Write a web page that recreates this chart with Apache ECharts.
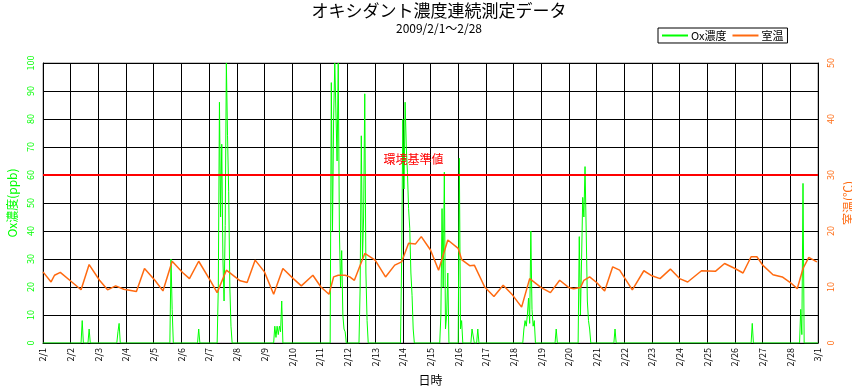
<!DOCTYPE html>
<html>
<head>
<meta charset="utf-8">
<script src="https://cdn.jsdelivr.net/npm/echarts@6/dist/echarts.min.js"></script>
<style>
html,body{margin:0;padding:0;background:#fff;overflow:hidden;}
#chart{width:852px;height:387px;}
</style>
</head>
<body>
<div id="chart"></div>
<script>
// Tick labels for x axis (one per day boundary, hours since 2/1 0:00)
var dayLabels = ['2/1','2/2','2/3','2/4','2/5','2/6','2/7','2/8','2/9','2/10','2/11','2/12','2/13','2/14',
  '2/15','2/16','2/17','2/18','2/19','2/20','2/21','2/22','2/23','2/24','2/25','2/26','2/27','2/28','3/1'];

// Ox concentration (ppb): [hour since 2/1 0:00, value]
var oxData = [
  [0,0],[33,0],[34,8],[35,0],[39,0],[40,5],[41,0],[64,0],[65,4],[66,7],[67,0],
  [110,0],[111,30],[112,12],[113,0],[134,0],[135,5],[136,0],
  [151,0],[152,20],[153,86],[154,45],[155,71],[156,30],[157,15],[158,42],[159,100],[160,74],[161,54],[162,20],[163,6],[164,0],
  [200,0],[201,6],[202,2],[203,6],[204,3],[205,6],[206,4],[207,15],[208,0],
  [249,0],[250,93],[251,40],[252,80],[253,100],[254,100],[255,65],[256,100],[257,40],[258,20],[259,33],[260,10],[261,5],[262,4],[263,0],
  [274,0],[275,20],[276,74],[277,30],[278,45],[279,89],[280,25],[281,8],[282,0],
  [310,0],[311,30],[312,80],[313,55],[314,86],[315,70],[316,61],[317,48],[318,41],[319,25],[320,17],[321,5],[322,0],
  [344,0],[345,10],[346,48],[347,20],[348,61],[349,5],[350,10],[351,25],[352,0],
  [360,0],[361,66],[362,5],[363,8],[364,0],[371,0],[372,5],[373,5],[374,0],[376,0],[377,5],[378,0],
  [416,0],[417,5],[418,8],[419,6],[420,10],[421,16],[422,7],[423,40],[424,12],[425,6],[426,8],[427,0],
  [444,0],[445,5],[446,0],
  [464,0],[465,38],[466,10],[467,30],[468,52],[469,45],[470,63],[471,40],[472,15],[473,8],[474,5],[475,0],
  [495,0],[496,5],[497,0],[614,0],[615,7],[616,0],
  [656,0],[657,12],[658,3],[659,57],[660,0],[672,0]
];

// Room temperature (°C): [hour since 2/1 0:00, value]
var tempData = [
  [0,12.7],[7,10.9],[10,12.1],[15,12.6],[25,10.9],[33,9.5],[40,14.0],[49,11.2],[56,9.5],[63,10.2],[70,9.6],
  [81,9.2],[88,13.3],[97,11.2],[104,9.3],[112,14.6],[121,12.6],[127,11.5],[135,14.6],[145,11.2],[151,9.0],
  [159,13.0],[171,11.1],[177,10.8],[184,14.8],[192,12.7],[200,8.7],[208,13.3],[217,11.5],[224,10.2],[234,12.1],
  [241,10.0],[248,8.7],[252,11.8],[256,12.1],[262,12.1],[266,11.8],[270,11.2],[279,16.0],[288,14.8],[297,11.8],
  [305,13.9],[311,14.5],[317,17.8],[323,17.7],[328,19.0],[336,16.6],[343,13.0],[351,18.4],[360,16.9],[363,14.9],
  [370,13.8],[374,13.9],[383,10.0],[391,8.3],[399,10.3],[407,8.6],[415,6.4],[422,11.5],[432,9.9],[440,9.0],
  [448,11.2],[456,9.9],[460,9.7],[466,9.9],[469,11.2],[474,11.8],[480,10.8],[487,9.3],[494,13.6],[500,13.0],
  [505,11.4],[511,9.5],[521,12.9],[528,12.0],[535,11.5],[544,13.2],[552,11.5],[559,10.9],[571,12.9],[583,12.8],
  [591,14.2],[600,13.3],[607,12.5],[614,15.4],[619,15.4],[624,13.9],[633,12.2],[641,11.8],[648,10.8],[654,9.7],
  [659,13.3],[664,15.3],[671,14.5]
];

var standardValue = 60;

var FONT = '"Noto Sans CJK JP", "Noto Sans", sans-serif';
var GREEN = '#00ff00';
var ORANGE = '#ff6a10';

var chart = echarts.init(document.getElementById('chart'), null, {renderer: 'canvas'});
chart.setOption({
  animation: false,
  backgroundColor: '#fff',
  textStyle: {fontFamily: FONT},
  title: {
    text: 'オキシダント濃度連続測定データ',
    subtext: '2009/2/1～2/28',
    left: 439,
    top: 0,
    textAlign: 'center',
    itemGap: 3,
    padding: [2, 0, 0, 0],
    textStyle: {fontFamily: FONT, fontSize: 17, fontWeight: 'normal', color: '#000'},
    subtextStyle: {fontFamily: FONT, fontSize: 12, color: '#000'}
  },
  legend: {
    data: ['Ox濃度', '室温'],
    left: 658,
    top: 28,
    borderColor: '#000',
    borderWidth: 1,
    padding: [2, 4, 2, 4],
    itemGap: 6,
    itemWidth: 26,
    itemHeight: 2,
    icon: 'rect',
    textStyle: {fontFamily: FONT, fontSize: 11, color: '#000', padding: [0, 0, 0, -2]}
  },
  grid: {
    left: 43, right: 34, top: 63, bottom: 44,
    show: true, borderColor: '#888', borderWidth: 1,
    containLabel: false,
    outerBoundsMode: 'none'
  },
  xAxis: {
    type: 'value',
    min: 0, max: 672, interval: 24,
    name: '日時',
    nameLocation: 'middle',
    nameGap: 28,
    nameTextStyle: {fontFamily: FONT, fontSize: 12, color: '#000'},
    axisLine: {show: true, lineStyle: {color: '#000', width: 1}},
    axisTick: {show: false},
    splitLine: {show: true, lineStyle: {color: '#000', width: 1}},
    axisLabel: {
      rotate: 90, fontSize: 9, color: '#000', margin: 5, fontFamily: FONT,
      formatter: function (v) { return dayLabels[Math.round(v / 24)]; }
    }
  },
  yAxis: [
    {
      type: 'value', min: 0, max: 100, interval: 10,
      name: 'Ox濃度(ppb)',
      nameLocation: 'middle', nameRotate: 90, nameGap: 24,
      nameTextStyle: {fontFamily: FONT, fontSize: 12, color: GREEN},
      axisLine: {show: true, lineStyle: {color: '#000', width: 1}},
      axisTick: {show: false},
      splitLine: {show: true, lineStyle: {color: '#000', width: 1}},
      axisLabel: {rotate: 90, fontSize: 9, color: GREEN, margin: 8, fontFamily: FONT}
    },
    {
      type: 'value', min: 0, max: 50, interval: 10,
      position: 'right',
      name: '室温(℃)',
      nameLocation: 'middle', nameRotate: 90, nameGap: 20,
      nameTextStyle: {fontFamily: FONT, fontSize: 12, color: ORANGE},
      axisLine: {show: true, lineStyle: {color: '#000', width: 1}},
      axisTick: {show: false},
      splitLine: {show: false},
      axisLabel: {rotate: 90, fontSize: 9, color: ORANGE, margin: 8, fontFamily: FONT}
    }
  ],
  series: [
    {
      name: 'Ox濃度',
      type: 'line',
      yAxisIndex: 0,
      data: oxData,
      symbol: 'none',
      lineStyle: {color: GREEN, width: 1},
      itemStyle: {color: GREEN},
      z: 3,
      markLine: {
        silent: true,
        symbol: ['none', 'none'],
        lineStyle: {color: '#ff0000', width: 2, type: 'solid'},
        label: {
          show: true, position: 'insideMiddleTop', formatter: '環境基準値',
          color: '#ff0000', fontSize: 12, fontFamily: FONT, distance: 10,
          padding: [0, 34, 0, 0]
        },
        data: [{yAxis: standardValue}]
      }
    },
    {
      name: '室温',
      type: 'line',
      yAxisIndex: 1,
      data: tempData,
      symbol: 'none',
      lineStyle: {color: ORANGE, width: 1.5},
      itemStyle: {color: ORANGE},
      z: 4
    }
  ]
});
</script>
</body>
</html>
